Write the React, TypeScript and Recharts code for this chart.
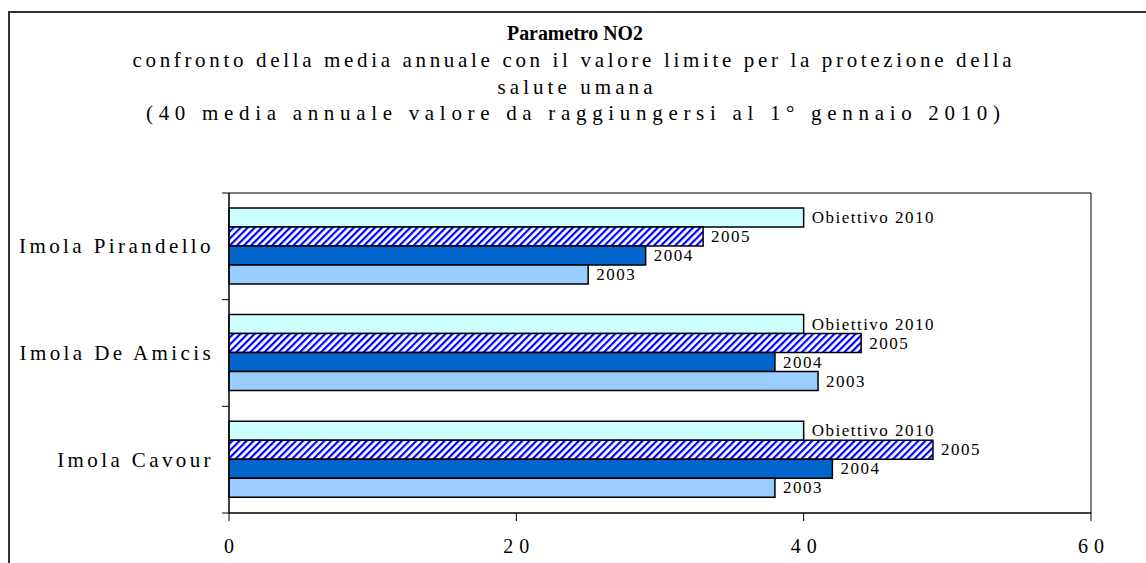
import React from 'react';
import { BarChart, Bar, XAxis, YAxis, ReferenceArea, LabelList } from 'recharts';

// stations, top to bottom
const stations = ['Imola Pirandello', 'Imola De Amicis', 'Imola Cavour'];

// annual mean NO2 (µg/m3) per station
const obiettivo2010 = [40, 40, 40];
const media2005 = [33, 44, 49];
const media2004 = [29, 38, 42];
const media2003 = [25, 41, 38];

const xTicks = [0, 20, 40, 60];

const titleLines = [
  'confronto della media annuale con il valore limite per la protezione della',
  'salute umana',
  '(40 media annuale valore da raggiungersi al 1° gennaio 2010)',
];

const data = stations.map((name, i) => ({
  name,
  obiettivo: obiettivo2010[i],
  y2005: media2005[i],
  y2004: media2004[i],
  y2003: media2003[i],
}));

const FONT = '"Liberation Serif", "Times New Roman", serif';

const CategoryTick = (props: any) => {
  const { x, y, payload, index } = props;
  const half = payload.offset ?? 53.3;
  const axisX = x + 18;
  const isLast = index === stations.length - 1;
  return (
    <g>
      <line x1={axisX - 7} x2={axisX} y1={y - half} y2={y - half} stroke="#000" strokeWidth={1} />
      {isLast && <line x1={axisX - 7} x2={axisX} y1={y + half} y2={y + half} stroke="#000" strokeWidth={1} />}
      <text x={x + 3} y={y} textAnchor="end" dominantBaseline="central" fontFamily={FONT} fontSize={21} letterSpacing={3.4} fill="#000">
        {payload.value}
      </text>
    </g>
  );
};

const ValueTick = (props: any) => {
  const { x, y, payload } = props;
  return (
    <text x={x + 3} y={y} dy="0.71em" textAnchor="middle" fontFamily={FONT} fontSize={20} letterSpacing={6} fill="#000">
      {payload.value}
    </text>
  );
};

const seriesLabel = (name: string) => (p: any) => {
  const vb = p.viewBox ?? p;
  return (
    <text
      x={vb.x + vb.width + 8}
      y={vb.y + vb.height / 2}
      dominantBaseline="central"
      fontFamily={FONT}
      fontSize={17}
      letterSpacing={1.5}
      fill="#000"
    >
      {name}
    </text>
  );
};

export default function App() {
  return (
    <div style={{ position: 'absolute', left: 0, top: 0, width: 1146, height: 563, background: '#fff', overflow: 'hidden' }}>
      <svg width={0} height={0} style={{ position: 'absolute' }}>
        <defs>
          <pattern id="hatch2005" patternUnits="userSpaceOnUse" width={5} height={5} patternTransform="rotate(45)">
            <rect width={5} height={5} fill="#fff" />
            <rect width={2.2} height={5} fill="#0000ff" />
          </pattern>
        </defs>
      </svg>

      <div style={{ position: 'absolute', left: 8, top: 11, width: 1200, height: 600, border: '2px solid #333', boxSizing: 'border-box' }} />

      <svg width={1146} height={190} style={{ position: 'absolute', left: 0, top: 0 }}>
        <text x={575} y={40} textAnchor="middle" fontFamily={FONT} fontWeight="bold" fontSize={20} textLength={136} lengthAdjust="spacingAndGlyphs">
          Parametro NO2
        </text>
        <text x={572} y={67} textAnchor="middle" fontFamily={FONT} fontSize={21} textLength={879} lengthAdjust="spacing">
          {titleLines[0]}
        </text>
        <text x={575} y={94} textAnchor="middle" fontFamily={FONT} fontSize={21} textLength={155} lengthAdjust="spacing">
          {titleLines[1]}
        </text>
        <text x={573} y={120} textAnchor="middle" fontFamily={FONT} fontSize={21} textLength={854} lengthAdjust="spacing">
          {titleLines[2]}
        </text>
      </svg>

      <div style={{ position: 'absolute', left: 0, top: 0 }}>
        <BarChart
          width={1146}
          height={563}
          data={data}
          layout="vertical"
          margin={{ top: 193, right: 55, bottom: 0, left: 0 }}
          barCategoryGap="14%"
          barGap={0}
        >
          <XAxis
            type="number"
            domain={[0, 60]}
            ticks={xTicks}
            height={50}
            tickSize={8}
            tickMargin={18}
            axisLine={{ stroke: '#000', strokeWidth: 1 }}
            tickLine={{ stroke: '#000', strokeWidth: 1 }}
            tick={<ValueTick />}
          />
          <YAxis
            type="category"
            dataKey="name"
            width={229}
            tickSize={0}
            tickMargin={18}
            tickLine={false}
            axisLine={{ stroke: '#000', strokeWidth: 1 }}
            tick={<CategoryTick />}
          />
          <ReferenceArea x1={0} x2={60} fill="none" stroke="#000" strokeWidth={1} ifOverflow="visible" />
          <Bar dataKey="obiettivo" name="Obiettivo 2010" fill="#ccffff" stroke="#000" strokeWidth={1.5} isAnimationActive={false}>
            <LabelList dataKey="obiettivo" content={seriesLabel('Obiettivo 2010')} />
          </Bar>
          <Bar dataKey="y2005" name="2005" fill="url(#hatch2005)" stroke="#000" strokeWidth={1.5} isAnimationActive={false}>
            <LabelList dataKey="y2005" content={seriesLabel('2005')} />
          </Bar>
          <Bar dataKey="y2004" name="2004" fill="#0066cc" stroke="#000" strokeWidth={1.5} isAnimationActive={false}>
            <LabelList dataKey="y2004" content={seriesLabel('2004')} />
          </Bar>
          <Bar dataKey="y2003" name="2003" fill="#99ccff" stroke="#000" strokeWidth={1.5} isAnimationActive={false}>
            <LabelList dataKey="y2003" content={seriesLabel('2003')} />
          </Bar>
        </BarChart>
      </div>
    </div>
  );
}
